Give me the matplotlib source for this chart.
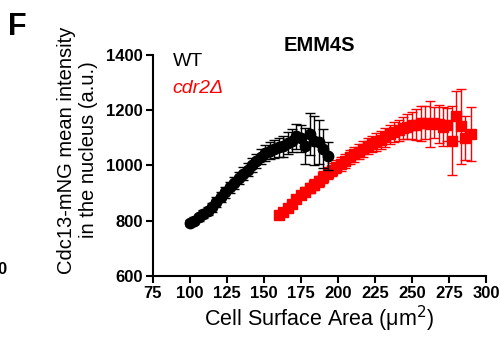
import matplotlib
matplotlib.use('Agg')
import matplotlib.pyplot as plt

plt.rcParams['font.family'] = ['Liberation Sans', 'DejaVu Sans']

# WT (black circles)
wt_x = [100, 103, 106, 109, 112, 115, 118, 121, 124, 127, 130, 133, 136, 139, 142, 145,
        148, 151, 154, 157, 160, 163, 166, 169, 172, 175, 178, 181, 184, 187, 190, 193]
wt_y = [792, 800, 812, 823, 835, 849, 866, 884, 902, 921, 937, 953, 970, 985, 1000, 1015,
        1032, 1045, 1053, 1060, 1065, 1070, 1080, 1090, 1105, 1098, 1070, 1113, 1090, 1085, 1060, 1035]
wt_err = [10, 12, 12, 14, 15, 16, 18, 18, 20, 20, 22, 22, 24, 24, 25, 26,
          26, 28, 30, 32, 35, 38, 40, 42, 45, 50, 65, 75, 90, 80, 70, 50]

# cdr2 deletion (red squares)
cdr_x = [160, 163, 166, 169, 172, 175, 178, 181, 184, 187, 190, 193, 196, 199, 202, 205,
         208, 211, 214, 217, 220, 223, 226, 229, 232, 235, 238, 241, 244, 247, 250, 253,
         256, 259, 262, 265, 268, 271, 274, 277, 280, 283, 286, 290]
cdr_y = [820, 832, 845, 860, 878, 893, 905, 918, 930, 943, 958, 972, 985, 995, 1005, 1017,
         1030, 1040, 1050, 1060, 1070, 1078, 1085, 1092, 1102, 1112, 1120, 1128, 1135, 1140, 1145, 1148,
         1152, 1155, 1150, 1155, 1150, 1140, 1148, 1090, 1180, 1141, 1100, 1113]
cdr_err = [8, 10, 10, 12, 14, 15, 16, 18, 20, 20, 22, 22, 24, 24, 25, 26,
           26, 28, 28, 30, 30, 30, 32, 32, 34, 34, 36, 38, 40, 45, 50, 55,
           62, 60, 82, 55, 70, 70, 60, 125, 90, 135, 80, 98]

fig = plt.figure(figsize=(5.01, 3.41), dpi=100)
ax = fig.add_axes([0.305, 0.191, 0.665, 0.648])

ax.errorbar(wt_x, wt_y, yerr=wt_err, fmt='o', color='black', ms=7.5,
            ecolor='black', elinewidth=1.0, capsize=3.5, capthick=1.0, zorder=3)
ax.errorbar(cdr_x, cdr_y, yerr=cdr_err, fmt='s', color='#FF0000', ms=6.8,
            ecolor='#FF0000', elinewidth=1.0, capsize=3.5, capthick=1.0, zorder=2)

ax.set_xlim(75, 300)
ax.set_ylim(600, 1400)
ax.set_xticks(range(75, 301, 25))
ax.set_yticks(range(600, 1401, 200))
for s in ['top', 'right']:
    ax.spines[s].set_visible(False)
for s in ['left', 'bottom']:
    ax.spines[s].set_linewidth(1.5)
ax.tick_params(width=1.5, length=5, labelsize=12, pad=2)
for lab in ax.get_xticklabels() + ax.get_yticklabels():
    lab.set_fontweight('bold')

ax.set_xlabel('Cell Surface Area (μm$^2$)', fontsize=15.5, labelpad=2)
ax.set_ylabel('Cdc13-mNG mean intensity\nin the nucleus (a.u.)', fontsize=14.5)
ax.yaxis.set_label_coords(-0.165, 0.57)
ax.set_title('EMM4S', fontsize=14.5, fontweight='bold', pad=2)

ax.text(0.06, 0.97, 'WT', transform=ax.transAxes, fontsize=14, color='black', va='center')
ax.text(0.06, 0.85, 'cdr2Δ', transform=ax.transAxes, fontsize=14, color='#FF0000',
        style='italic', va='center')

fig.text(0.015, 0.92, 'F', fontsize=22, fontweight='bold', va='center')
fig.text(0.78, 1.03, '(a.u.)', fontsize=15, va='center')
fig.text(-0.006, 0.21, '0', fontsize=12, fontweight='bold', va='center')

fig.savefig('out.png', dpi=100)
